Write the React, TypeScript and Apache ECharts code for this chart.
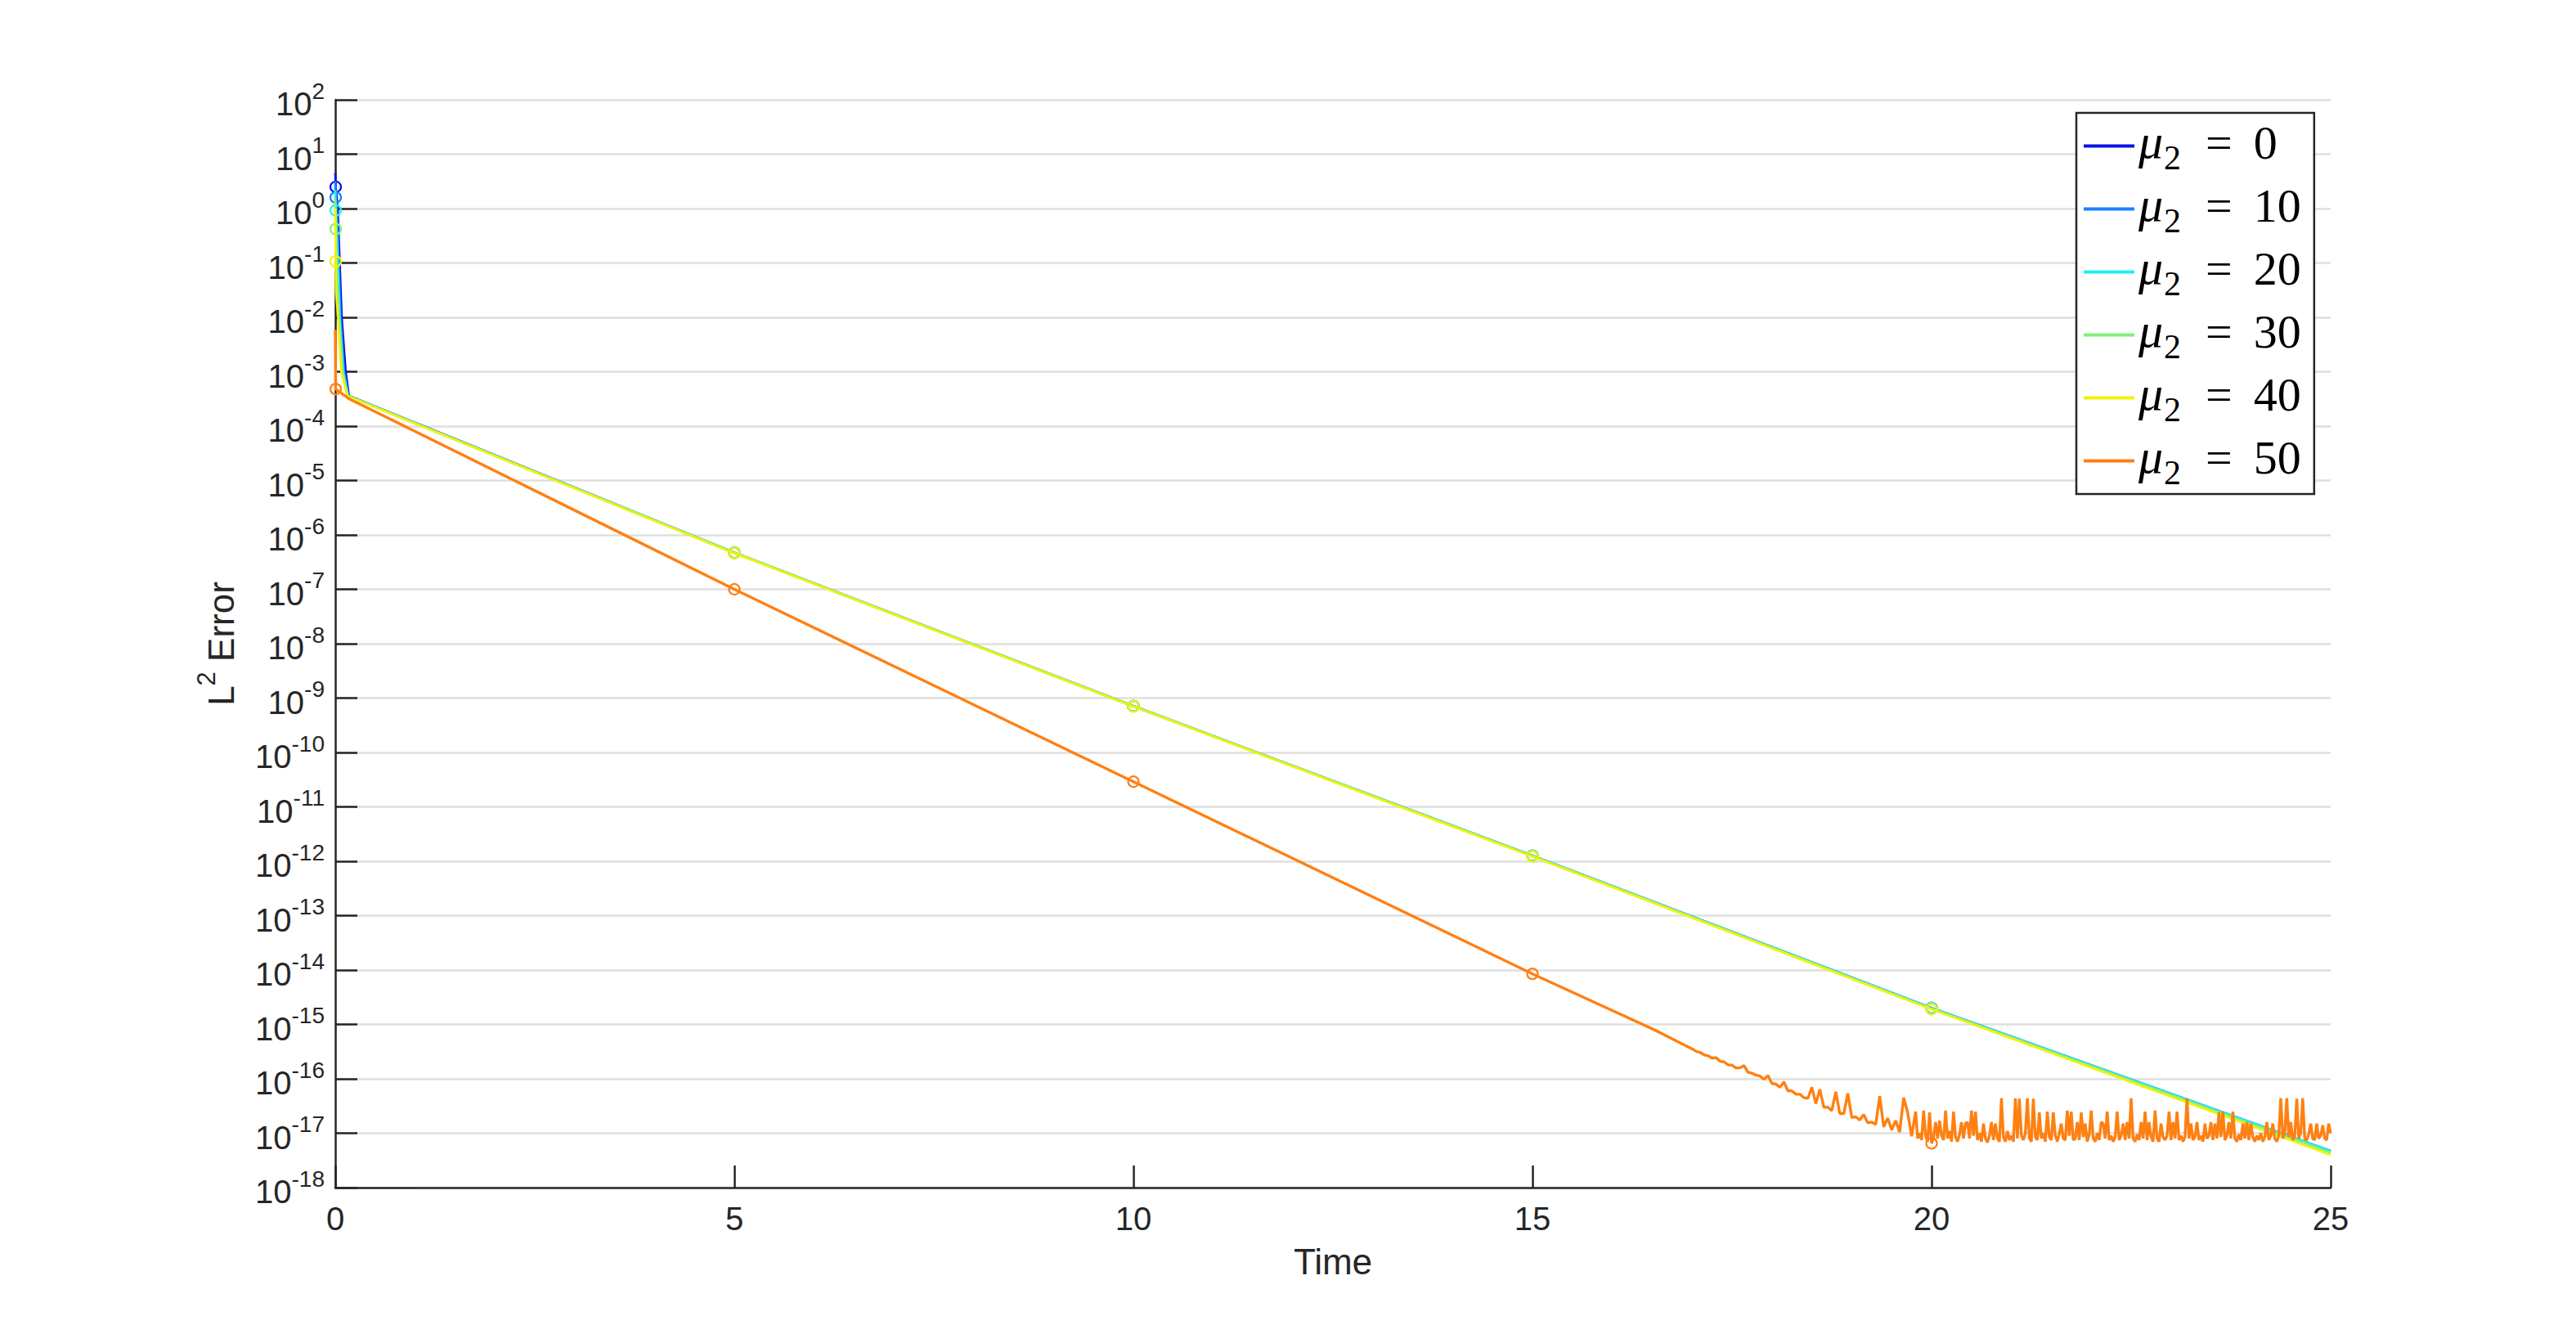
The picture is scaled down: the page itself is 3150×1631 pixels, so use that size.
import { useEffect, useRef } from 'react';
import * as echarts from 'echarts';

// ---------- data ----------
const MU_VALUES = ['0', '10', '20', '30', '40', '50'];
const COLORS = ['#0a14e6', '#1a80ff', '#22eeee', '#80f07c', '#f2f20a', '#ff8012'];

const X_TICKS = [0, 5, 10, 15, 20, 25];
const Y_EXP_MIN = -18;
const Y_EXP_MAX = 2;

// initial transient (t, L2 error) for mu2 = 0..40 ; marker at index 1
const HEAD_T_MU0 = [0, 0.005, 0.03, 0.08, 0.13, 0.17];
const HEAD_V_MU0 = [4.5, 2.5, 1.0, 1e-2, 1e-3, 3.6e-4];
const HEAD_T_MU10 = [0, 0.005, 0.025, 0.065, 0.11, 0.165];
const HEAD_V_MU10 = [3.2, 1.6, 0.6, 1e-2, 1e-3, 3.6e-4];
const HEAD_T_MU20 = [0, 0.005, 0.02, 0.055, 0.1, 0.16];
const HEAD_V_MU20 = [2.2, 0.93, 0.3, 1e-2, 1e-3, 3.6e-4];
const HEAD_T_MU30 = [0, 0.005, 0.015, 0.045, 0.09, 0.155];
const HEAD_V_MU30 = [1.5, 0.42, 0.1, 1e-2, 1e-3, 3.6e-4];
const HEAD_T_MU40 = [0, 0.005, 0.01, 0.035, 0.075, 0.15];
const HEAD_V_MU40 = [1.0, 0.107, 0.03, 1e-2, 1e-3, 3.6e-4];

// exponential decay part (markers at t = 5, 10, 15, 20)
const DECAY_T = [5, 10, 15, 20, 25];
const DECAY_V_MU0 = [4.7e-7, 7.1e-10, 1.26e-12, 2.0e-15, 4.7e-18];
const DECAY_V_MU10 = [4.7e-7, 7.1e-10, 1.26e-12, 2.0e-15, 4.7e-18];
const DECAY_V_MU20 = [4.7e-7, 7.1e-10, 1.26e-12, 2.0e-15, 4.7e-18];
const DECAY_V_MU30 = [4.7e-7, 7.1e-10, 1.25e-12, 1.95e-15, 4.4e-18];
const DECAY_V_MU40 = [4.6e-7, 7.0e-10, 1.22e-12, 1.9e-15, 4.0e-18];

// mu2 = 50
const ORANGE_HEAD_T = [0, 0.005, 0.17, 5, 10, 15, 16, 16.5];
const ORANGE_HEAD_V = [5.9e-3, 4.8e-4, 3.2e-4, 1.0e-7, 2.9e-11, 8.5e-15, 1.8e-15, 8.3e-16];
const ORANGE_HEAD_MARKERS = [1, 3, 4, 5];

// t = 17.00 ... 19.75, step 0.05
const ORANGE_BEND_T0 = 17;
const ORANGE_BEND_DT = 0.05;
const ORANGE_BEND_V = [
  3.55e-16, 3.2e-16, 3.05e-16, 2.75e-16, 2.65e-16, 2.4e-16, 2.45e-16, 2.1e-16, 2.05e-16, 1.8e-16,
  1.78e-16, 1.58e-16, 1.6e-16, 1.75e-16, 1.32e-16, 1.27e-16, 1.17e-16, 1.12e-16, 9.8e-17, 1.15e-16,
  8.2e-17, 8.0e-17, 7.0e-17, 8.8e-17, 6.0e-17, 6.0e-17, 5.2e-17, 5.2e-17, 4.5e-17, 4.4e-17,
  7.0e-17, 3.5e-17, 6.4e-17, 3.0e-17, 3.0e-17, 2.6e-17, 5.8e-17, 2.3e-17, 2.3e-17, 5.4e-17,
  1.95e-17, 2.0e-17, 1.75e-17, 2.2e-17, 1.55e-17, 1.6e-17, 1.45e-17, 4.8e-17, 1.3e-17, 1.9e-17,
  1.15e-17, 1.7e-17, 1.05e-17, 4.5e-17, 2.4e-17, 8.8e-18,
];

// t = 19.80 ... 25.00, step 0.025 (round-off floor)
const ORANGE_FLOOR_T0 = 19.8;
const ORANGE_FLOOR_DT = 0.025;
const ORANGE_FLOOR_MARKER = 8; // t = 20
const ORANGE_FLOOR_V = [
  2.5e-17, 8e-18, 1.0e-17, 7.5e-18, 2.6e-17, 9e-18, 7e-18, 2.4e-17, 6.5e-18, 8.5e-18,
  1.6e-17, 8e-18, 1.7e-17, 9e-18, 7.5e-18, 2.6e-17, 8e-18, 1.1e-17, 7e-18, 2.5e-17,
  8.5e-18, 7e-18, 9.5e-18, 1.6e-17, 8e-18, 1.5e-17, 1.6e-17, 8e-18, 2.6e-17, 9e-18,
  2.5e-17, 7.5e-18, 1.0e-17, 7e-18, 1.5e-17, 8e-18, 6.8e-18, 9e-18, 1.6e-17, 7.5e-18,
  1.5e-17, 8e-18, 7e-18, 4.4e-17, 8.5e-18, 7e-18, 1.1e-17, 7.5e-18, 9e-18, 7e-18,
  4.4e-17, 8e-18, 4.3e-17, 9e-18, 7.5e-18, 1.0e-17, 4.4e-17, 8e-18, 7e-18, 4.3e-17,
  8.5e-18, 7.5e-18, 2.4e-17, 8e-18, 1.0e-17, 7e-18, 2.5e-17, 8.5e-18, 7.5e-18, 2.4e-17,
  9e-18, 7e-18, 1.0e-17, 1.5e-17, 8e-18, 7.5e-18, 2.6e-17, 9e-18, 2.5e-17, 7.5e-18,
  8e-18, 1.6e-17, 7.5e-18, 2.4e-17, 8.5e-18, 1.5e-17, 7e-18, 9.5e-18, 2.6e-17, 8e-18,
  7e-18, 1.0e-17, 7.5e-18, 1.6e-17, 1.5e-17, 8e-18, 2.5e-17, 7.5e-18, 9e-18, 7e-18,
  8.5e-18, 2.5e-17, 7.5e-18, 9e-18, 1.5e-17, 7.5e-18, 1.6e-17, 8e-18, 4.4e-17, 8e-18,
  7e-18, 9.5e-18, 7.5e-18, 1.6e-17, 8e-18, 2.5e-17, 7.5e-18, 1.6e-17, 8.5e-18, 7e-18,
  2.6e-17, 8e-18, 7e-18, 1.5e-17, 8.5e-18, 7.5e-18, 9e-18, 2.5e-17, 7.5e-18, 1.6e-17,
  8e-18, 2.5e-17, 7.5e-18, 9e-18, 7e-18, 8.5e-18, 4.4e-17, 8e-18, 1.5e-17, 7.5e-18,
  8.5e-18, 1.6e-17, 7.5e-18, 9e-18, 7e-18, 1.5e-17, 8e-18, 9e-18, 1.6e-17, 7.5e-18,
  1.5e-17, 8e-18, 2.4e-17, 8.5e-18, 2.5e-17, 7.5e-18, 9e-18, 1.6e-17, 8e-18, 2.5e-17,
  8e-18, 7e-18, 9.5e-18, 7.5e-18, 1.5e-17, 8e-18, 1.6e-17, 7.5e-18, 1.5e-17, 8.5e-18,
  7e-18, 9e-18, 7.5e-18, 1.0e-17, 7e-18, 8.5e-18, 1.6e-17, 7.5e-18, 9e-18, 1.5e-17,
  8e-18, 7e-18, 9e-18, 4.4e-17, 8e-18, 1.0e-17, 4.4e-17, 8.5e-18, 1.6e-17, 7.5e-18,
  9e-18, 4.3e-17, 8e-18, 1.0e-17, 4.4e-17, 8e-18, 7.5e-18, 9.5e-18, 1.5e-17, 8e-18,
  7.5e-18, 1.5e-17, 8e-18, 9e-18, 1.4e-17, 8e-18, 7.5e-18, 1.5e-17, 1.0e-17,
];

// ---------- styling ----------
const SANS = '"Liberation Sans", Arial, Helvetica, sans-serif';
const SERIF = '"Liberation Serif", "Times New Roman", serif';
const TXT = '#262626';

type Pt = { t: number; v: number; marker: boolean };

function markerItem(t: number, v: number, marker: boolean, color: string) {
  const base: any = { value: [t, Math.log10(v)] };
  if (marker) {
    base.symbol = 'circle';
    base.symbolSize = 13;
    base.itemStyle = { color: 'rgba(255,255,255,0)', borderColor: color, borderWidth: 2.2 };
  }
  return base;
}

function buildSmooth(headT: number[], headV: number[], decayV: number[]): Pt[] {
  const pts: Pt[] = [];
  headT.forEach((t, i) => pts.push({ t, v: headV[i], marker: i === 1 }));
  DECAY_T.forEach((t, i) => pts.push({ t, v: decayV[i], marker: t < 25 }));
  return pts;
}

function buildOrange(): Pt[] {
  const pts: Pt[] = [];
  ORANGE_HEAD_T.forEach((t, i) =>
    pts.push({ t, v: ORANGE_HEAD_V[i], marker: ORANGE_HEAD_MARKERS.includes(i) })
  );
  ORANGE_BEND_V.forEach((v, i) =>
    pts.push({ t: +(ORANGE_BEND_T0 + i * ORANGE_BEND_DT).toFixed(4), v, marker: false })
  );
  ORANGE_FLOOR_V.forEach((v, i) =>
    pts.push({
      t: +(ORANGE_FLOOR_T0 + i * ORANGE_FLOOR_DT).toFixed(4),
      v,
      marker: i === ORANGE_FLOOR_MARKER,
    })
  );
  return pts;
}

export default function App() {
  const ref = useRef<HTMLDivElement>(null);

  useEffect(() => {
    if (!ref.current) return;
    const chart = echarts.init(ref.current, undefined, { renderer: 'svg' });

    const allPts: Pt[][] = [
      buildSmooth(HEAD_T_MU0, HEAD_V_MU0, DECAY_V_MU0),
      buildSmooth(HEAD_T_MU10, HEAD_V_MU10, DECAY_V_MU10),
      buildSmooth(HEAD_T_MU20, HEAD_V_MU20, DECAY_V_MU20),
      buildSmooth(HEAD_T_MU30, HEAD_V_MU30, DECAY_V_MU30),
      buildSmooth(HEAD_T_MU40, HEAD_V_MU40, DECAY_V_MU40),
      buildOrange(),
    ];

    const names = MU_VALUES.map((m) => `μ2 = ${m}`);

    const series = allPts.map((pts, k) => ({
      name: names[k],
      type: 'line',
      symbol: 'none',
      showSymbol: true,
      color: COLORS[k],
      lineStyle: { color: COLORS[k], width: k === 5 ? 3.4 : 2.8 },
      itemStyle: { color: COLORS[k] },
      emphasis: { disabled: true },
      silent: true,
      z: 2 + k,
      data: pts.map((p) => markerItem(p.t, p.v, p.marker, COLORS[k])),
    }));

    const legendRich = {
      m: { fontFamily: SERIF, fontStyle: 'italic', fontSize: 60, color: '#000', verticalAlign: 'bottom', padding: [0, 0, 11, 0] },
      s: { fontFamily: SERIF, fontSize: 42, color: '#000', verticalAlign: 'bottom', padding: [0, 0, 0, 1] },
      e: { fontFamily: SERIF, fontSize: 58, color: '#000', verticalAlign: 'bottom', padding: [0, 26, 11, 30] },
      n: { fontFamily: SERIF, fontSize: 58, color: '#000', verticalAlign: 'bottom', padding: [0, 0, 11, 0] },
    };

    const option: any = {
      animation: false,
      backgroundColor: '#ffffff',
      grid: { left: 410, right: 300, top: 122, bottom: 179, containLabel: false, outerBoundsMode: 'none' },
      legend: {
        orient: 'vertical',
        left: 2539,
        top: 138,
        padding: [5, 16, 5, 9],
        itemGap: 6,
        itemWidth: 62,
        itemHeight: 4,
        icon: 'rect',
        backgroundColor: '#ffffff',
        borderColor: TXT,
        borderWidth: 2.5,
        borderRadius: 0,
        selectedMode: false,
        data: names,
        formatter: (name: string) => {
          const num = name.split('= ')[1];
          return `{m|μ}{s|2}{e|=}{n|${num}}`;
        },
        textStyle: { rich: legendRich },
      },
      xAxis: {
        type: 'value',
        min: X_TICKS[0],
        max: X_TICKS[X_TICKS.length - 1],
        interval: 5,
        name: 'Time',
        nameLocation: 'middle',
        nameGap: 68,
        nameTextStyle: { fontFamily: SANS, fontSize: 44, color: TXT },
        axisLine: { show: true, onZero: false, lineStyle: { color: TXT, width: 2.5 } },
        axisTick: { show: true, inside: true, length: 27, lineStyle: { color: TXT, width: 2.5 } },
        axisLabel: { fontFamily: SANS, fontSize: 40, color: TXT, margin: 18 },
        splitLine: { show: false },
      },
      yAxis: {
        type: 'value',
        min: Y_EXP_MIN,
        max: Y_EXP_MAX,
        interval: 1,
        name: '{a|L}{s|2}{a| Error}',
        nameLocation: 'middle',
        nameGap: 118,
        nameRotate: 90,
        nameTextStyle: {
          rich: {
            a: { fontFamily: SANS, fontSize: 44, color: TXT, verticalAlign: 'bottom' },
            s: { fontFamily: SANS, fontSize: 31, color: TXT, verticalAlign: 'bottom', padding: [0, 0, 24, 0] },
          },
        },
        axisLine: { show: true, onZero: false, lineStyle: { color: TXT, width: 2.5 } },
        axisTick: { show: true, inside: true, length: 27, lineStyle: { color: TXT, width: 2.5 } },
        axisLabel: {
          margin: 13,
          formatter: (v: number) => `{b|10}{s|${Math.round(v)}}`,
          rich: {
            b: { fontFamily: SANS, fontSize: 40, color: TXT, verticalAlign: 'bottom' },
            s: { fontFamily: SANS, fontSize: 28, color: TXT, verticalAlign: 'bottom', padding: [0, 0, 22, 0] },
          },
        },
        splitLine: { show: true, lineStyle: { color: '#dfdfdf', width: 2.5 } },
      },
      series,
    };

    chart.setOption(option);
    return () => chart.dispose();
  }, []);

  return (
    <div
      ref={ref}
      style={{ position: 'absolute', left: 0, top: 0, width: 3150, height: 1631, background: '#fff' }}
    />
  );
}
